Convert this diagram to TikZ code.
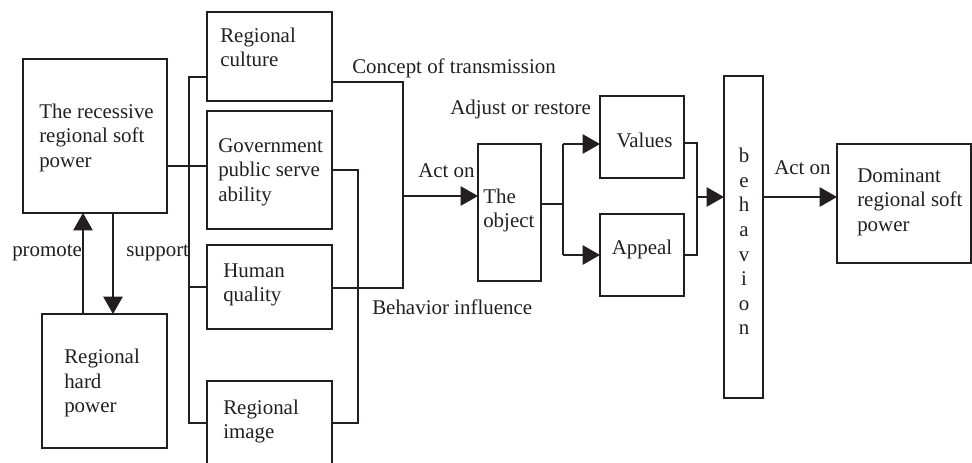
\documentclass[tikz,border=0pt]{standalone}
\usepackage{fontspec}
\setmainfont{Liberation Serif}
\usetikzlibrary{arrows.meta,fit}
\definecolor{ink}{HTML}{231F20}
\begin{document}
\begin{tikzpicture}[x=0.75pt,y=-0.75pt,
  box/.style={draw=ink, line width=1.2pt, inner sep=0pt, outer sep=0pt},
  txt/.style={inner sep=0pt, align=left, text=ink, font=\fontsize{15.7}{18.4}\selectfont},
  ln/.style={draw=ink, line width=1.1pt},
  arr/.style={ln, -{Triangle[length=13pt,width=14.5pt]}}]
\useasboundingbox (0,0) rectangle (972,462);
\clip (0,0) rectangle (972,462);
% boxes
\node[box, fit={(23,59) (167,213)}] (rec) {};
\node[box, fit={(42,314) (167,448)}] (hard) {};
\node[box, fit={(207,12) (332,101)}] (cul) {};
\node[box, fit={(207,111) (332,229)}] (gov) {};
\node[box, fit={(207,245) (332,329)}] (hum) {};
\node[box, fit={(207,381) (332,480)}] (img) {};
\node[box, fit={(478,144) (541,281)}] (obj) {};
\node[box, fit={(600,96) (684,178)}] (val) {};
\node[box, fit={(600,214) (684,296)}] (app) {};
\node[box, fit={(724,76) (763,398)}] (beh) {};
\node[box, fit={(837,144) (971,263)}] (dom) {};
% box texts
\node[txt,anchor=west] (trec) at (39,137.5) {The recessive\\regional soft\\power};
\node[txt,anchor=west] (thard) at (64,383) {Regional\\hard\\power};
\node[txt,anchor=west] (tcul) at (220,47.5) {Regional\\culture};
\node[txt,anchor=west] (tgov) at (218,172) {Government\\public serve\\ability};
\node[txt,anchor=west] (thum) at (223,285) {Human\\quality};
\node[txt,anchor=west] (timg) at (223,421.5) {Regional\\image};
\node[txt,anchor=west] (tobj) at (483,210.5) {The\\object};
\node[txt] (tval) at (644.5,140) {Values};
\node[txt] (tapp) at (642,249) {Appeal};
\node[txt,align=center] (tbeh) at (744,241.5) {b\\e\\h\\a\\v\\i\\o\\n};
\node[txt,anchor=west] (tdom) at (857,202) {Dominant\\regional soft\\power};
% edge labels
\node[txt,anchor=west] (lcon) at (352,68) {Concept of transmission};
\node[txt,anchor=west] (ladj) at (450,109) {Adjust or restore};
\node[txt,anchor=west] (lact1) at (418,171) {Act on};
\node[txt,anchor=west] (lbeh) at (372,307) {Behavior influence};
\node[txt,anchor=west] (lpro) at (12,253) {promote};
\node[txt,anchor=west] (lsup) at (126,253) {support};
\node[txt,anchor=west] (lact2) at (774,168) {Act on};
% junction coordinates
\coordinate (xa) at (83,0);
\coordinate (xb) at (113,0);
\coordinate (ly) at (0,166);
\coordinate (A) at (189,77);
\coordinate (B) at (189,423);
\coordinate (C) at (403,82);
\coordinate (D) at (403,288);
\coordinate (E) at (403,196);
\coordinate (G) at (358,423);
\coordinate (H) at (563,204);
\coordinate (I1) at (563,144);
\coordinate (I2) at (563,255);
\coordinate (J1) at (697,143);
\coordinate (J2) at (697,255);
\coordinate (K) at (697,197);
% connectors
\draw[arr] (hard.north -| xa) -- (rec.south -| xa);
\draw[arr] (rec.south -| xb) -- (hard.north -| xb);
\draw[ln] (rec.east |- ly) -- (gov.west |- ly);
\draw[ln] (cul.west |- A) -- (A) -- (B) -- (img.west |- B);
\draw[ln] (A |- hum.west) -- (hum.west);
\draw[ln] (cul.east |- C) -- (C) -- (D) -- (hum.east |- D);
\draw[ln] (gov.east) -- (gov.east -| G) -- (G) -- (img.east |- G);
\draw[arr] (E) -- (obj.west |- E);
\draw[ln] (obj.east |- H) -- (H);
\draw[ln] (I1) -- (I2);
\draw[arr] (I1) -- (val.west |- I1);
\draw[arr] (I2) -- (app.west |- I2);
\draw[ln] (val.east |- J1) -- (J1) -- (J2) -- (app.east |- J2);
\draw[arr] (K) -- (beh.west |- K);
\draw[arr] (beh.east |- K) -- (dom.west |- K);
\end{tikzpicture}
\end{document}
